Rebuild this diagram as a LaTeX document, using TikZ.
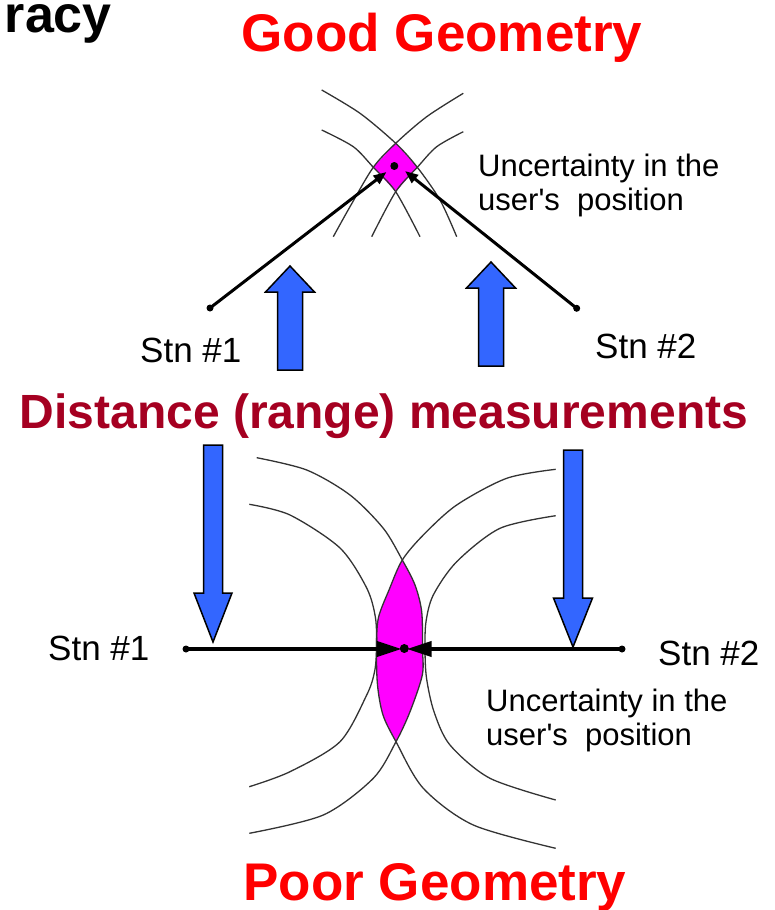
\documentclass[tikz,border=0pt]{standalone}
\usepackage{fontspec}
\setmainfont{Liberation Sans}[Ligatures=TeXOff]
\usetikzlibrary{arrows.meta}
\definecolor{arrowblue}{HTML}{3366FF}
\definecolor{distred}{HTML}{A50021}
\definecolor{lensmag}{HTML}{FF00FF}
\definecolor{titlered}{HTML}{FF0000}
\begin{document}
\begin{tikzpicture}[x=1pt,y=-1pt,
  lbl/.style={inner sep=0pt, font=\fontsize{35}{40}\selectfont},
  unc/.style={inner sep=0pt, font=\fontsize{31}{36}\selectfont},
  title/.style={inner sep=0pt, text=titlered, font=\bfseries\fontsize{53}{60}\selectfont},
  rangearc/.style={draw=black!80, line width=1.3pt},
  bluearrow/.style={fill=arrowblue, draw=black, line width=1.5pt, line join=miter},
  stn/.style={circle, fill=black, inner sep=0pt, minimum size=7pt},
  ctr/.style={circle, fill=black, inner sep=0pt, minimum size=8pt},
  ray/.style={line width=3pt, -{Triangle[length=13pt,width=10pt]}},
  bray/.style={line width=4pt, -{Triangle[length=25pt,width=15pt]}}]
\useasboundingbox (0,0) rectangle (774,910);

% ---------- titles ----------
\node[inner sep=0pt, anchor=base east, font=\bfseries\fontsize{52}{60}\selectfont] (acc) at (112,32) {racy};
\node[title, anchor=base] (good) at (442,51) {Good Geometry};
\node[title, anchor=base] (poor) at (435,900) {Poor Geometry};
\node[inner sep=0pt, anchor=base, text=distred, font=\bfseries\fontsize{48}{56}\selectfont] (dist) at (384,428) {Distance (range) measurements};

% ---------- good geometry ----------
\fill[lensmag] (395.7,143.3) -- (417.3,167.3) -- (395.7,191.7) -- (373.3,167.3) -- cycle;
\draw[rangearc] plot[smooth] coordinates {(321.7,90) (360,113.3) (395.7,143.3) (417.3,167.3) (440,200) (456.7,236.7)};
\draw[rangearc] plot[smooth] coordinates {(321.7,130) (353.3,146.7) (373.3,167.3) (395.7,191.7) (420,236.7)};
\draw[rangearc] plot[smooth] coordinates {(463.3,93.3) (426.7,116.7) (395.7,143.3) (373.3,167.3) (350,206.7) (333.3,236.7)};
\draw[rangearc] plot[smooth] coordinates {(463.3,131.7) (436.7,146.7) (417.3,167.3) (395.7,191.7) (371.7,236.7)};

\node[stn] (s1) at (210,308) {};
\node[stn] (s2) at (576.7,308.3) {};
\node[ctr] (c1) at (394.3,166) {};
\coordinate (t1) at (386.5,172);
\coordinate (t2) at (405,171);
\draw[ray] (s1.center) -- (t1);
\draw[ray] (s2.center) -- (t2);

\node[lbl, anchor=base west] (st1) at (140,362.7) {Stn \#1};
\node[lbl, anchor=base west] (st2) at (595,358.3) {Stn \#2};
\node[unc, anchor=base west] (ua1) at (478,176) {Uncertainty in the};
\node[unc, anchor=base west] (ua2) at (478,210) {user's\ \ position};

% blue arrows up
\filldraw[bluearrow] (277.5,370) -- (277.5,292) -- (265.5,292) -- (290,266) -- (314.5,292) -- (302.5,292) -- (302.5,370) -- cycle;
\filldraw[bluearrow] (478.5,366) -- (478.5,288) -- (466.5,288) -- (491,262) -- (515.5,288) -- (503.5,288) -- (503.5,366) -- cycle;
% blue arrows down
\filldraw[bluearrow] (203.5,445) -- (222.5,445) -- (222.5,593) -- (232,593) -- (213,642) -- (194,593) -- (203.5,593) -- cycle;
\filldraw[bluearrow] (563.5,450) -- (582.5,450) -- (582.5,598) -- (592.5,598) -- (573,647) -- (553.5,598) -- (563.5,598) -- cycle;

% ---------- poor geometry ----------
\begin{scope}
\clip plot[smooth] coordinates {(256.7,457.7) (306.7,470) (350,495) (383.3,528.3) (402.3,560) (415,585) (421.7,611.7) (422.5,649) (422.3,675) (410,711.7) (396,741.7) (373.3,778.3) (323.3,815) (249.3,833.3)} -- cycle;
\fill[lensmag] plot[smooth] coordinates {(555.7,469.3) (506.7,478.3) (456.7,505) (423.3,535) (402.3,560) (389,590) (378.3,618.3) (376.5,649) (377.5,685) (383,715) (396,741.7) (423.3,788.3) (473.3,825) (555.7,848.3)} -- cycle;
\end{scope}
\draw[rangearc] plot[smooth] coordinates {(256.7,457.7) (306.7,470) (350,495) (383.3,528.3) (402.3,560) (415,585) (421.7,611.7) (422.5,649) (422.3,675) (410,711.7) (396,741.7) (373.3,778.3) (323.3,815) (249.3,833.3)};
\draw[rangearc] plot[smooth] coordinates {(555.7,469.3) (506.7,478.3) (456.7,505) (423.3,535) (402.3,560) (389,590) (378.3,618.3) (376.5,649) (377.5,685) (383,715) (396,741.7) (423.3,788.3) (473.3,825) (555.7,848.3)};
\draw[rangearc] plot[smooth] coordinates {(249.3,504.3) (290,515) (340,548) (366.7,588) (375.5,618) (376.5,649) (374.5,672) (366.7,695) (340,741.7) (290,771.7) (249.3,786.7)};
\draw[rangearc] plot[smooth] coordinates {(555.7,515.7) (500,528.3) (456.7,561.7) (433.3,595) (426,621.7) (425,649) (426.5,678) (434,711.7) (450,745) (490,778.3) (555.7,800)};

\node[stn] (b1) at (186,649) {};
\node[stn] (b2) at (622,649) {};
\node[ctr, minimum size=9pt] (c2) at (404.3,648.5) {};
\coordinate (bt1) at (401.7,649);
\coordinate (bt2) at (406.7,649);
\draw[bray] (b1.center) -- (bt1);
\draw[bray] (b2.center) -- (bt2);

\node[lbl, anchor=base west] (sb1) at (48,660) {Stn \#1};
\node[lbl, anchor=base west] (sb2) at (658,665) {Stn \#2};
\node[unc, anchor=base west] (ub1) at (486,711.7) {Uncertainty in the};
\node[unc, anchor=base west] (ub2) at (486,745.5) {user's\ \ position};
\end{tikzpicture}
\end{document}
